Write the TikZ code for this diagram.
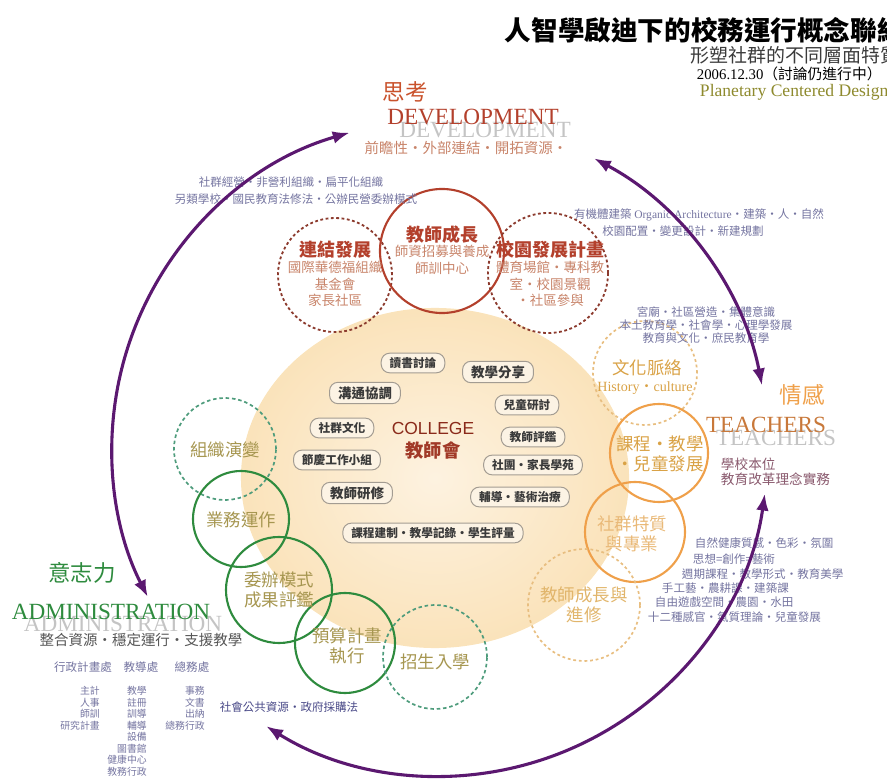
\documentclass[tikz,border=0pt]{standalone}
\usepackage{fontspec}
\setmainfont{Liberation Serif}
\newfontfamily\cjkfont{Noto Sans CJK TC}
\newfontfamily\arialfont{Liberation Sans}
\usepackage{tikz}
\usetikzlibrary{
  arrows.meta,%
  calc,%
  shapes.geometric
}
\definecolor{devred}{HTML}{B3402C}
\definecolor{devdark}{HTML}{8C3B2E}
\definecolor{devsoft}{HTML}{C8846A}
\definecolor{devorange}{HTML}{C9522C}
\definecolor{teaorange}{HTML}{EFA04A}
\definecolor{teadash}{HTML}{E8BE80}
\definecolor{teagold}{HTML}{D9A246}
\definecolor{teabrown}{HTML}{C8783A}
\definecolor{teanote}{HTML}{8A5A6E}
\definecolor{admgreen}{HTML}{2E8B3E}
\definecolor{admdash}{HTML}{4E9C7C}
\definecolor{admtext}{HTML}{A69650}
\definecolor{mutedblue}{HTML}{7474A0}
\definecolor{navynote}{HTML}{4A4A88}
\definecolor{shadowgray}{HTML}{C4C4C4}
\definecolor{mottogray}{HTML}{555555}
\definecolor{cyclepurple}{HTML}{5B1870}
\definecolor{boxgray}{HTML}{A39C92}
\definecolor{boxfill}{HTML}{FCF3E4}
\definecolor{boxtext}{HTML}{3A3A3A}
\definecolor{collegered}{HTML}{8A2A1A}
\definecolor{planolive}{HTML}{8E8A2E}
\definecolor{discin}{HTML}{FDF2E0}
\definecolor{discmid}{HTML}{FAE1B6}
\definecolor{discout}{HTML}{F7D196}
\pgfdeclareradialshading{discglow}{\pgfpoint{0bp}{0bp}}{%
  color(0bp)=(discin); color(28bp)=(discmid); color(50bp)=(discout)}
\tikzset{>={Latex[length=12pt, width=9pt]}}
\tikzset{
  ring/.style={circle, inner sep=0pt},
  devline/.style={ring, draw=devred, line width=1.5pt},
  devdots/.style={ring, draw=devdark, line width=1.3pt, dash pattern=on 2pt off 1.8pt},
  tealine/.style={ring, draw=teaorange, line width=1.5pt},
  teadots/.style={ring, draw=teadash, line width=1.2pt, dash pattern=on 2pt off 2pt},
  admline/.style={ring, draw=admgreen, line width=1.5pt},
  admdots/.style={ring, draw=admdash, line width=1.2pt, dash pattern=on 2.5pt off 2pt},
  ringhead/.style={font={\cjkfont\bfseries\fontsize{12.8}{15}\selectfont}, align=center},
  ringnote/.style={font={\cjkfont\fontsize{9.6}{11.7}\selectfont}, align=center, text=devsoft},
  ringlabel/.style={font={\cjkfont\fontsize{12.4}{14.2}\selectfont}, align=center},
  headline/.style={font={\cjkfont\fontsize{16}{18}\selectfont}},
  engword/.style={font={\fontsize{16.5}{18}\selectfont}},
  motto/.style={font={\cjkfont\fontsize{10.3}{11}\selectfont}},
  note/.style={font={\cjkfont\fontsize{8.2}{9.3}\selectfont}, text=mutedblue},
  tinynote/.style={font={\cjkfont\fontsize{7}{8.2}\selectfont}, text=mutedblue,
    align=right, anchor=north east, inner sep=0pt},
  roundbox/.style={draw=boxgray, fill=boxfill, rounded corners=6pt, line width=0.7pt,
    inner xsep=6pt, inner ysep=3pt, text=boxtext,
    font={\cjkfont\bfseries\fontsize{8.3}{10}\selectfont}},
  bigbox/.style={font={\cjkfont\bfseries\fontsize{9.6}{11}\selectfont}},
  cyclearrow/.style={<->, draw=cyclepurple, line width=2.2pt},
}

\begin{document}
\begin{tikzpicture}[x=0.025cm, y=-0.025cm]
  \useasboundingbox (0,0) rectangle (887,780);
  \clip (0,0) rectangle (887,780);
  % college disc
  \shade[shading=discglow] (435,478) ellipse [x radius=4.85cm, y radius=4.25cm];
  % rings
  \node[devdots, minimum size=2.85cm] (link) at (335,275) {};
  \node[devline, minimum size=3.1cm] (growth) at (442,251) {};
  \node[devdots, minimum size=3cm] (campus) at (548,273) {};
  \node[teadots, minimum size=2.6cm] (culture) at (645,373) {};
  \node[tealine, minimum size=2.45cm] (course) at (659,453) {};
  \node[tealine, minimum size=2.5cm] (traits) at (635,532) {};
  \node[teadots, minimum size=2.8cm] (study) at (584,605) {};
  \node[admdots, minimum size=2.55cm] (evolve) at (225,449) {};
  \node[admline, minimum size=2.4cm] (affairs) at (241,519) {};
  \node[admline, minimum size=2.65cm] (commission) at (279,590) {};
  \node[admline, minimum size=2.5cm] (budget) at (345,643) {};
  \node[admdots, minimum size=2.6cm] (enrol) at (435,657) {};
  % ring labels
  \node[ringhead, text=devred] (linkhead) at ($(link)+(0,-25)$) {連結發展};
  \node[ringnote] (linknote) at ($(link)+(0,9)$) {國際華德福組織\\基金會\\家長社區};
  \node[ringhead, text=devred] (growthhead) at ($(growth)+(0,-16)$) {教師成長};
  \node[ringnote] (growthnote) at ($(growth)+(0,9)$) {師資招募與養成\\師訓中心};
  \node[ringhead, text=devred] (campushead) at ($(campus)+(2,-23)$) {校園發展計畫};
  \node[ringnote] (campusnote) at ($(campus)+(2,11)$) {體育場館・專科教\\室・校園景觀\\・社區參與};
  \node[ringlabel, text=teagold] (culturehead) at ($(culture)+(2,-5)$) {文化脈絡};
  \node[font={\fontsize{10}{12}\selectfont}, text=teagold] (culturenote) at ($(culture)+(0,15)$) {History{\cjkfont ・}culture};
  \node[ringlabel, text=teagold] (coursetext) at ($(course)+(1,1)$) {課程・教學\\・兒童發展};
  \node[ringlabel, text=teadash!85!teaorange] (traitstext) at ($(traits)+(-3,2)$) {社群特質\\與專業};
  \node[ringlabel, text=teagold!80!white] (studytext) at (study) {教師成長與\\進修};
  \node[ringlabel, text=admtext] (evolvetext) at ($(evolve)+(0,1)$) {組織演變};
  \node[ringlabel, text=admtext] (affairstext) at ($(affairs)+(0,1)$) {業務運作};
  \node[ringlabel, text=admtext] (commissiontext) at (commission) {委辦模式\\成果評鑑};
  \node[ringlabel, text=admtext] (budgettext) at ($(budget)+(2,3)$) {預算計畫\\執行};
  \node[ringlabel, text=admtext] (enroltext) at ($(enrol)+(0,5)$) {招生入學};
  % college
  \node[roundbox] (reading) at (413,363) {讀書討論};
  \node[roundbox, bigbox] (sharing) at (498,372) {教學分享};
  \node[roundbox, bigbox] (talk) at (365,393) {溝通協調};
  \node[roundbox] (childstudy) at (527,405) {兒童研討};
  \node[roundbox] (culturebox) at (342,428) {社群文化};
  \node[roundbox] (review) at (533,437) {教師評鑑};
  \node[roundbox] (festival) at (337,460) {節慶工作小組};
  \node[roundbox] (club) at (533,465) {社團・家長學苑};
  \node[roundbox, bigbox] (training) at (357,493) {教師研修};
  \node[roundbox] (therapy) at (520,497) {輔導・藝術治療};
  \node[roundbox] (records) at (433,533) {課程建制・教學記錄・學生評量};
  \node[font={\arialfont\fontsize{12.4}{14}\selectfont}, text=collegered] (college) at (433,428) {COLLEGE};
  \node[font={\cjkfont\bfseries\fontsize{13}{15}\selectfont}, text=devred!90!black] (council) at (433,450) {教師會};
  % title
  \node[anchor=west, font={\cjkfont\bfseries\fontsize{18.9}{22}\selectfont}] (title) at (500,30) {人智學啟迪下的校務運行概念聯結};
  \node[anchor=west, font={\cjkfont\fontsize{13.5}{15}\selectfont}, text=mottogray!70!black] (subtitle) at (686,55) {形塑社群的不同層面特質};
  \node[anchor=west, font={\fontsize{10.5}{12}\selectfont}] (date) at (692,74) {2006.12.30{\cjkfont（討論仍進行中）}};
  \node[anchor=west, font={\fontsize{12.5}{14}\selectfont}, text=planolive] (planetary) at (695,92) {Planetary Centered Design};
  % development
  \node[headline, text=devorange] (think) at (405,92) {思考};
  \node[engword, text=shadowgray] (devshadow) at (485,130) {DEVELOPMENT};
  \node[engword, text=devred] (devword) at (473,117) {DEVELOPMENT};
  \node[motto, text=devsoft] (devmotto) at (466,148) {前瞻性・外部連結・開拓資源・};
  \node[note] (orgnote) at (291,182) {社群經營・非營利組織・扁平化組織};
  \node[note] (schoolnote) at (296,199) {另類學校・國民教育法修法・公辦民營委辦模式};
  \node[note] (archnote) at (699,215) {有機體建築 {\rmfamily Organic Architecture}・建築・人・自然};
  \node[note] (plannote) at (683,231) {校園配置・變更設計・新建規劃};
  % teachers
  \node[note, align=center] (contextnote) at (706,325) {宮廟・社區營造・集體意識\\本土教育學・社會學・心理學發展\\教育與文化・庶民教育學};
  \node[headline, text=teaorange] (feel) at (802,395) {情感};
  \node[engword, text=shadowgray] (teashadow) at (776,438) {TEACHERS};
  \node[engword, text=teabrown] (teaword) at (766,425) {TEACHERS};
  \node[motto, text=teanote, anchor=west, align=left, font={\cjkfont\fontsize{9.7}{10.7}\selectfont}] (teamotto) at (716,472) {學校本位\\教育改革理念實務};
  \node[note, anchor=west] (healthnote) at (690,543) {自然健康質感・色彩・氛圍};
  \node[note, anchor=west] (artnote) at (688,559) {思想=創作=藝術};
  \node[note, anchor=west] (cyclenote) at (677,574) {週期課程・教學形式・教育美學};
  \node[note, anchor=west] (crafnote) at (657,588) {手工藝・農耕課・建築課};
  \node[note, anchor=west] (playnote) at (650,602) {自由遊戲空間・農園・水田};
  \node[note, anchor=west] (sensenote) at (643,617) {十二種感官・氣質理論・兒童發展};
  % administration
  \node[headline, text=admgreen] (will) at (82,573) {意志力};
  \node[engword, text=shadowgray] (admshadow) at (123,624) {ADMINISTRATION};
  \node[engword, text=admgreen] (admword) at (111,612) {ADMINISTRATION};
  \node[motto, text=mottogray] (admmotto) at (141,640) {整合資源・穩定運行・支援教學};
  \node[note] (planoffice) at (83,667) {行政計畫處};
  \node[note] (teachoffice) at (141,667) {教導處};
  \node[note] (generaloffice) at (192,667) {總務處};
  \node[tinynote] (plancol) at (100,686) {主計\\人事\\師訓\\研究計畫};
  \node[tinynote] (teachcol) at (147,686) {教學\\註冊\\訓導\\輔導\\設備\\圖書館\\健康中心\\教務行政};
  \node[tinynote] (generalcol) at (205,686) {事務\\文書\\出納\\總務行政};
  \node[note, text=navynote] (publicres) at (289,707) {社會公共資源・政府採購法};
  % cycle
  \coordinate (hub) at (440,448);
  \draw[cyclearrow] (hub) ++(-106:328) arc[start angle=-106, end angle=-207, radius=328];
  \draw[cyclearrow] (hub) ++(-62:328) arc[start angle=-62, end angle=-11, radius=328];
  \draw[cyclearrow] (hub) ++(8:328) arc[start angle=8, end angle=122, radius=328];
\end{tikzpicture}
\end{document}
